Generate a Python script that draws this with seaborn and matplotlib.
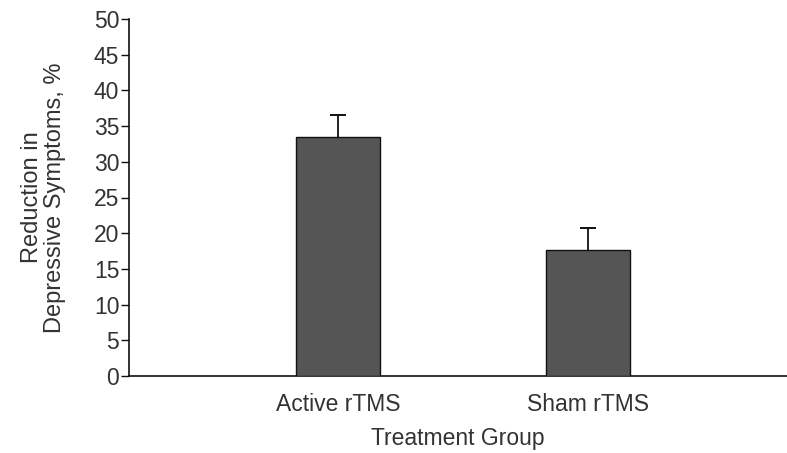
import matplotlib
matplotlib.use("Agg")
import matplotlib.pyplot as plt
import seaborn as sns
import numpy as np
import pandas as pd

groups = ["Active rTMS", "Sham rTMS"]
reduction = [33.5, 17.7]
sem_upper = [3.0, 3.0]
yticks = list(range(0, 51, 5))

sns.set_style("white")
plt.rcParams["font.family"] = ["Liberation Sans", "DejaVu Sans"]

fig = plt.figure(figsize=(7.87, 4.53), dpi=100)
ax = fig.add_axes([129 / 787, 1 - 376 / 453, 1 - 129 / 787, (376 - 19) / 453])

df = pd.DataFrame({"group": groups, "reduction": reduction})
sns.barplot(data=df, x="group", y="reduction", ax=ax, color="#555555",
            saturation=1, width=0.333, edgecolor="#111111", linewidth=1.0,
            errorbar=None, zorder=3)
xpos = np.arange(len(groups))
tops = np.array(reduction) + np.array(sem_upper)
ax.errorbar(x=xpos, y=reduction,
            yerr=[np.zeros(len(groups)), sem_upper], fmt="none",
            ecolor="#111111", elinewidth=1.3, capsize=0, zorder=1)
ax.plot(xpos, tops, linestyle="none", marker="_", markersize=12,
        markeredgewidth=1.4, color="#111111", zorder=1)

ax.set_xlim(-0.836, 1.796)
ax.set_ylim(0, 50)
ax.set_yticks(yticks)
ax.tick_params(axis="y", direction="out", length=6, width=1.0, colors="#111111",
               labelsize=16.5, labelcolor="#333333", pad=1, left=True)
ax.tick_params(axis="x", length=0, labelsize=16.5, labelcolor="#333333", pad=12)
for s in ["top", "right"]:
    ax.spines[s].set_visible(False)
for s in ["left", "bottom"]:
    ax.spines[s].set_color("#111111")
    ax.spines[s].set_linewidth(1.2)

ax.set_xlabel("Treatment Group", fontsize=16.5, color="#333333", labelpad=8)
ax.set_ylabel("Reduction in\nDepressive Symptoms, %", fontsize=17,
              color="#333333", labelpad=20, linespacing=1.05)

fig.savefig("out.png", dpi=100)
